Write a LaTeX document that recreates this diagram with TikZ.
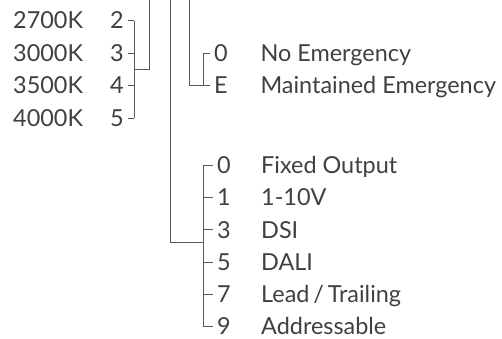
\documentclass[tikz,border=0pt]{standalone}
\usepackage{fontspec}
\setmainfont{Lato}
\usetikzlibrary{positioning}

\begin{document}
\begin{tikzpicture}[
    x=1bp, y=-1bp,
    lbl/.style={anchor=west, inner sep=0pt, text height=16.5bp, text depth=0pt, font=\fontsize{23.5}{26}\selectfont, text=black!75},
    code/.style={lbl, inner xsep=4bp},
    wire/.style={draw=black!65, line width=0.9bp}
]
\useasboundingbox (0,0) rectangle (502,338);

% Colour temperature
\foreach \t/\c [count=\i from 0] in {2700K/2, 3000K/3, 3500K/4, 4000K/5} {
    \node[lbl] (temp\i) at (13, 20.5+32.5*\i) {\t};
    \node[code] (tc\i) at (106, 20.5+32.5*\i) {\c};
}
\coordinate (tbar) at (134,0);
\coordinate (ttop) at (149,0);
\coordinate (tjoin) at (134,69);
\foreach \i in {0,...,3}
    \draw[wire] (tc\i.east) -- (tc\i.east -| tbar);
\draw[wire] (tc0.east -| tbar) -- (tc3.east -| tbar);
\draw[wire] (tjoin) -| (ttop);

% Emergency
\node[code] (ec0) at (210,53) {0};
\node[lbl, right=of ec0.west, xshift=22bp] (emg0) {No Emergency};
\node[code] (ec1) at (210,85.5) {E};
\node[lbl, right=of ec1.west, xshift=22bp] (emg1) {Maintained Emergency};
\coordinate (ebar) at (203,0);
\coordinate (etop) at (189,0);
\draw[wire] (ec0.west) -- (ec0.west -| ebar) -- (ec1.west -| ebar) -- (ec1.west);
\draw[wire] (ec1.west -| ebar) -| (etop);

% Control
\foreach \c/\t [count=\i from 0] in {0/Fixed Output, 1/1-10V, 3/DSI, 5/DALI, 7/{Lead\,/\,Trailing}, 9/Addressable} {
    \node[code] (cc\i) at (213, 165.5+32.2*\i) {\c};
    \node[lbl] (ctl\i) at (261, 165.5+32.2*\i) {\t};
}
\coordinate (cbar) at (203,0);
\coordinate (ctop) at (170,0);
\coordinate (cjoin) at (203,242);
\foreach \i in {0,...,5}
    \draw[wire] (cc\i.west) -- (cc\i.west -| cbar);
\draw[wire] (cc0.west -| cbar) -- (cc5.west -| cbar);
\draw[wire] (cjoin) -| (ctop);
\end{tikzpicture}
\end{document}
